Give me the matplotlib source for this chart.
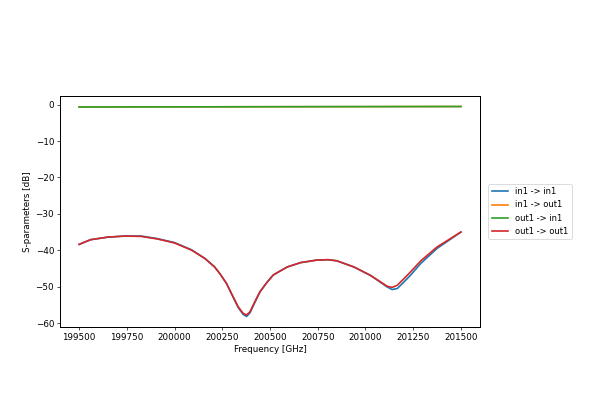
import numpy as np
import matplotlib
matplotlib.use('Agg')
import matplotlib.pyplot as plt

# frequency points [GHz]
freq = [199500, 199560, 199650, 199740, 199825, 199910, 200000, 200090,
        200160, 200210, 200237, 200272, 200307, 200333, 200359, 200377,
        200395, 200421, 200447, 200483, 200517, 200553, 200590, 200660,
        200745, 200805, 200850, 200940, 201026, 201079, 201114, 201140,
        201167, 201202, 201237, 201290, 201375, 201500]

# reflection (in1 -> in1), slightly deeper at the dips
s11 = [-38.4, -37.1, -36.4, -36.1, -36.1, -36.8, -37.9, -39.9,
       -42.3, -44.6, -46.4, -49.1, -52.9, -55.7, -57.6, -58.2,
       -57.2, -54.3, -51.5, -48.9, -46.8, -45.7, -44.6, -43.4,
       -42.7, -42.6, -42.9, -44.6, -46.9, -48.8, -50.1, -50.8,
       -50.5, -48.7, -46.8, -43.6, -39.5, -35.0]

# reflection (out1 -> out1)
s22 = [-38.4, -37.1, -36.4, -36.1, -36.2, -36.9, -38.0, -40.0,
       -42.3, -44.6, -46.4, -49.1, -52.8, -55.5, -57.3, -57.8,
       -56.9, -54.1, -51.4, -48.9, -46.8, -45.7, -44.6, -43.4,
       -42.7, -42.6, -42.9, -44.6, -46.9, -48.7, -49.9, -50.2,
       -49.6, -47.8, -45.9, -42.9, -39.1, -35.0]

# transmission, both directions almost identical
freq_t = [199500, 200000, 200500, 201000, 201500]
s21 = [-0.65, -0.62, -0.58, -0.55, -0.52]
s12 = [-0.65, -0.62, -0.58, -0.55, -0.52]

plt.rcParams['font.size'] = 10.5
plt.rcParams['lines.linewidth'] = 2.0
plt.rcParams['axes.linewidth'] = 1.2

fig = plt.figure(figsize=(10, 7), dpi=60)
ax = fig.add_axes([0.1, 0.2214, 0.7, 0.55])

ax.plot(freq, s11, label='in1 -> in1')
ax.plot(freq_t, s21, label='in1 -> out1')
ax.plot(freq_t, s12, label='out1 -> in1')
ax.plot(freq, s22, color='tab:red', label='out1 -> out1')

ax.set_xlabel('Frequency [GHz]')
ax.set_ylabel('S-parameters [dB]')
ax.set_xticks([199500, 199750, 200000, 200250, 200500, 200750, 201000, 201250, 201500])
ax.ticklabel_format(axis='x', useOffset=False, style='plain')
ax.legend(loc='center left', bbox_to_anchor=(1.01, 0.5), fontsize=10)

fig.savefig('out.png', dpi=60)
